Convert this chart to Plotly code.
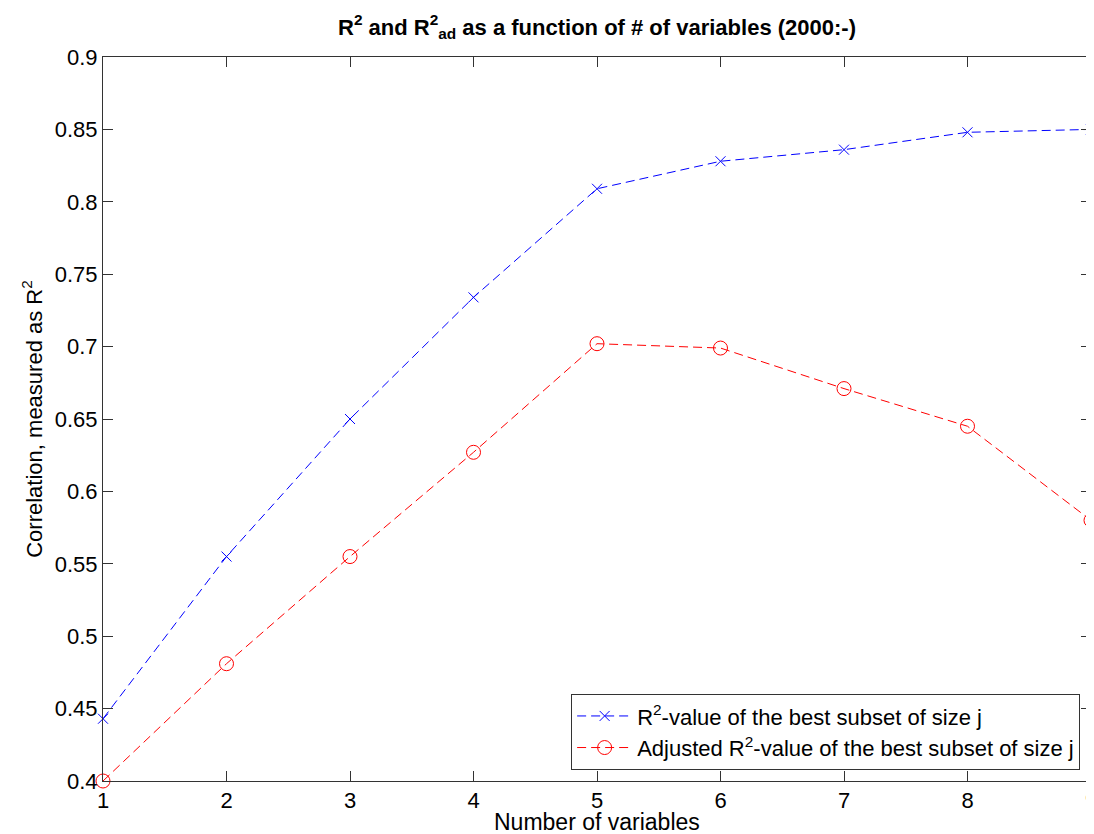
import plotly.graph_objects as go

num_vars = [1, 2, 3, 4, 5, 6, 7, 8, 9]
r2 = [0.443, 0.555, 0.650, 0.734, 0.809, 0.828, 0.836, 0.848, 0.850]
r2_adj = [0.400, 0.481, 0.555, 0.627, 0.702, 0.699, 0.671, 0.645, 0.580]

font_family = "Liberation Sans, Arial, sans-serif"

fig = go.Figure()
fig.add_trace(go.Scatter(
    x=num_vars, y=r2, mode="lines+markers",
    name="R<sup>2</sup>-value of the best subset of size j",
    line=dict(color="#0000ff", dash="9px,5px", width=1),
    marker=dict(symbol="x-thin", size=10, line=dict(color="#0000ff", width=1)),
    cliponaxis=False,
))
fig.add_trace(go.Scatter(
    x=num_vars, y=r2_adj, mode="lines+markers",
    name="Adjusted R<sup>2</sup>-value of the best subset of size j",
    line=dict(color="#ff0000", dash="9px,5px", width=1),
    marker=dict(symbol="circle-open", size=14, line=dict(color="#ff0000", width=1)),
    cliponaxis=False,
))

axis_common = dict(
    showgrid=False, zeroline=False, showline=True, linecolor="#333333", linewidth=1,
    mirror="ticks", ticks="inside", ticklen=10, tickcolor="#333333",
    tickfont=dict(size=22, color="black", family=font_family),
    automargin=False, ticklabeloverflow="allow",
)

# The page body adds an 8px offset, so the figure is sized to fit the window.
fig.update_layout(
    width=1086, height=826,
    margin=dict(l=95, r=3, t=49, b=53),
    paper_bgcolor="white", plot_bgcolor="white",
    font=dict(family=font_family, color="black"),
    title=dict(
        text="<b>R<sup>2</sup> and R<sup>2</sup><sub>ad</sub> as a function of # of variables (2000:-)</b>",
        x=0.5, xanchor="center", xref="paper", y=0.977, yanchor="middle",
        font=dict(size=22, family=font_family, color="black"),
    ),
    xaxis=dict(range=[1, 9], dtick=1, tick0=1, **axis_common),
    yaxis=dict(range=[0.4, 0.9], dtick=0.05, tick0=0.4,
               title=dict(text="Correlation, measured as R<sup>2</sup>", font=dict(size=22), standoff=6),
               **axis_common),
    legend=dict(
        x=0.989, xanchor="right", y=0.015, yanchor="bottom",
        bgcolor="white", bordercolor="#333333", borderwidth=1,
        font=dict(size=22, family=font_family, color="black"),
        tracegroupgap=0, itemwidth=55,
    ),
    showlegend=True,
    annotations=[dict(
        text="Number of variables", xref="paper", yref="paper",
        x=0.5, y=-0.036, xanchor="center", yanchor="top", showarrow=False,
        font=dict(size=23, family=font_family, color="black"),
    )],
)

fig.write_html("out.html")
